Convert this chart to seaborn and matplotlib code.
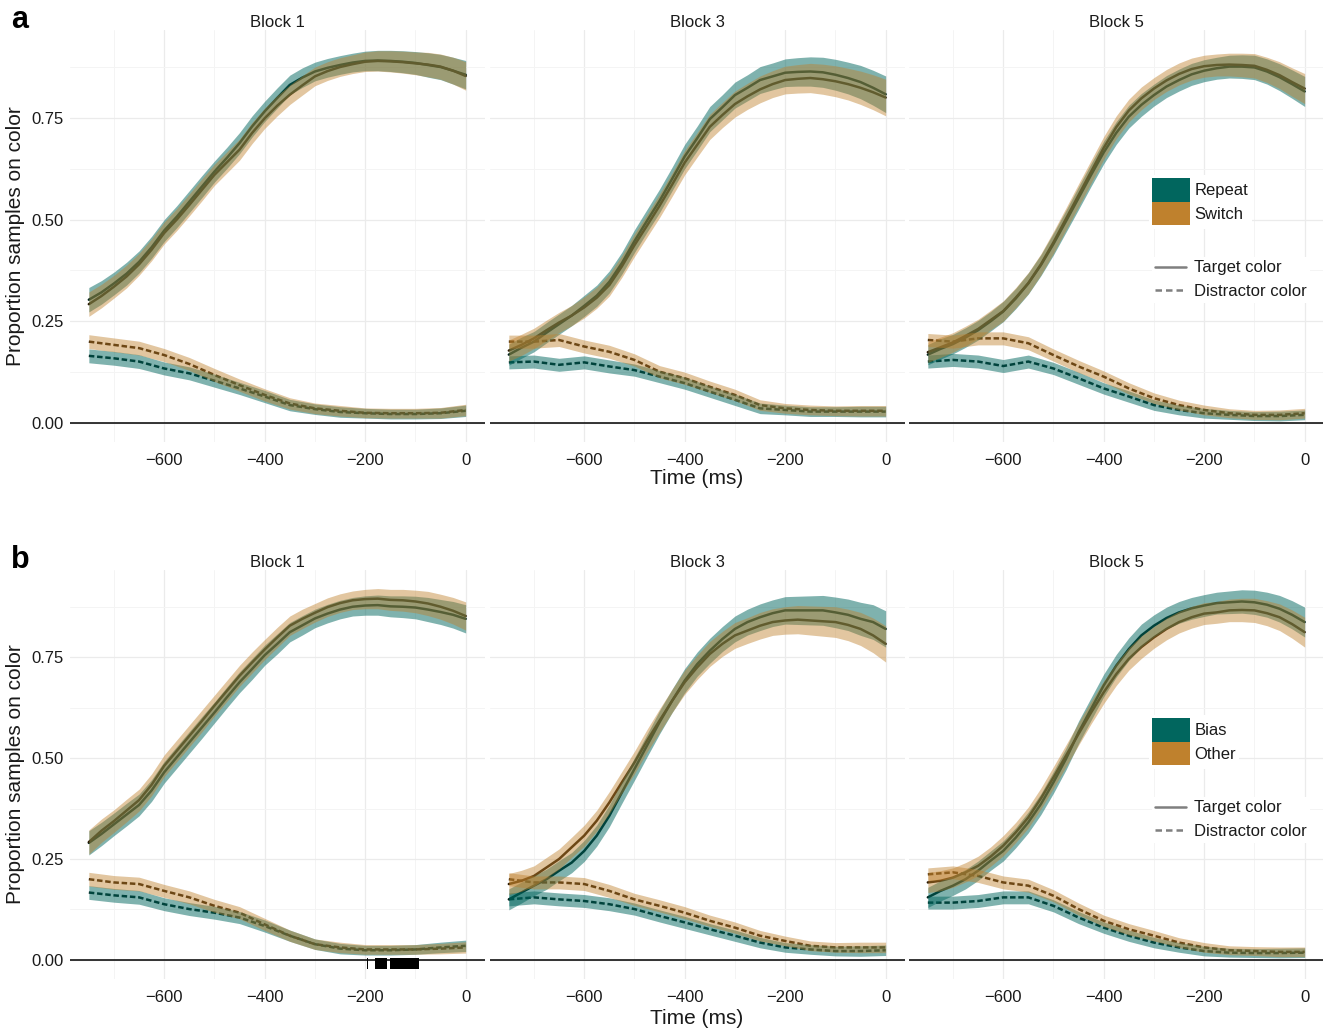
import numpy as np
import pandas as pd
import matplotlib
matplotlib.use("Agg")
import matplotlib.pyplot as plt
from matplotlib.patches import Patch
from matplotlib.lines import Line2D
import seaborn as sns

# ---------------------------------------------------------------- data
time_target = [-750, -725, -700, -675, -650, -625, -600, -575, -550, -525, -500,
               -475, -450, -425, -400, -375, -350, -325, -300, -275, -250,
               -225, -200, -175, -150, -125, -100, -75, -50, -25, 0]
time_distr = [-750, -700, -650, -600, -550, -500, -450, -400,
              -350, -300, -250, -200, -150, -100, -50, 0]
blocks = ["Block 1", "Block 3", "Block 5"]
kinds = ["Target color", "Distractor color"]

# Row a: trial-type split (Repeat vs Switch)
repeat_b1_target = [0.303, 0.321, 0.343, 0.367, 0.396, 0.432, 0.473, 0.507, 0.544, 0.581, 0.618,
                    0.652, 0.688, 0.729, 0.766, 0.799, 0.831, 0.849, 0.864, 0.873, 0.880,
                    0.886, 0.890, 0.891, 0.890, 0.888, 0.885, 0.880, 0.875, 0.866, 0.856]
switch_b1_target = [0.292, 0.312, 0.335, 0.360, 0.390, 0.426, 0.467, 0.500, 0.536, 0.573, 0.610,
                    0.641, 0.672, 0.713, 0.749, 0.780, 0.807, 0.830, 0.852, 0.865, 0.875,
                    0.882, 0.888, 0.890, 0.889, 0.887, 0.884, 0.881, 0.876, 0.866, 0.853]
repeat_b1_distr = [0.165, 0.159, 0.151, 0.134, 0.122, 0.104, 0.085, 0.065, 0.044, 0.034, 0.027, 0.024, 0.022, 0.022, 0.024, 0.030]
switch_b1_distr = [0.200, 0.192, 0.184, 0.167, 0.145, 0.118, 0.093, 0.069, 0.048, 0.036, 0.030, 0.025, 0.024, 0.024, 0.025, 0.032]

repeat_b3_target = [0.168, 0.185, 0.200, 0.222, 0.243, 0.264, 0.288, 0.313, 0.347, 0.393, 0.447,
                    0.497, 0.546, 0.600, 0.655, 0.700, 0.747, 0.776, 0.806, 0.824, 0.843,
                    0.852, 0.861, 0.863, 0.864, 0.862, 0.856, 0.848, 0.838, 0.824, 0.808]
switch_b3_target = [0.178, 0.192, 0.208, 0.228, 0.247, 0.264, 0.284, 0.308, 0.339, 0.385, 0.437,
                    0.485, 0.534, 0.586, 0.640, 0.684, 0.728, 0.757, 0.784, 0.803, 0.820,
                    0.833, 0.843, 0.846, 0.848, 0.845, 0.840, 0.833, 0.824, 0.813, 0.800]
repeat_b3_distr = [0.149, 0.151, 0.143, 0.149, 0.139, 0.130, 0.114, 0.098, 0.077, 0.057, 0.036, 0.032, 0.028, 0.028, 0.028, 0.028]
switch_b3_distr = [0.200, 0.200, 0.204, 0.188, 0.175, 0.155, 0.126, 0.110, 0.089, 0.069, 0.044, 0.036, 0.032, 0.030, 0.030, 0.030]

repeat_b5_target = [0.168, 0.182, 0.194, 0.210, 0.228, 0.250, 0.274, 0.306, 0.343, 0.388, 0.440,
                    0.496, 0.553, 0.610, 0.665, 0.713, 0.753, 0.782, 0.806, 0.827, 0.843,
                    0.857, 0.866, 0.872, 0.876, 0.876, 0.874, 0.864, 0.850, 0.833, 0.815]
switch_b5_target = [0.174, 0.186, 0.198, 0.214, 0.231, 0.253, 0.275, 0.308, 0.344, 0.390, 0.444,
                    0.502, 0.560, 0.618, 0.676, 0.727, 0.768, 0.798, 0.822, 0.842, 0.858,
                    0.870, 0.877, 0.880, 0.881, 0.880, 0.878, 0.868, 0.855, 0.838, 0.822]
repeat_b5_distr = [0.151, 0.155, 0.151, 0.140, 0.151, 0.134, 0.110, 0.085, 0.065, 0.044, 0.032, 0.024, 0.020, 0.017, 0.017, 0.020]
switch_b5_distr = [0.204, 0.200, 0.208, 0.208, 0.196, 0.167, 0.139, 0.114, 0.085, 0.061, 0.044, 0.032, 0.024, 0.020, 0.020, 0.024]

# Row b: colour-bias split (Bias vs Other)
bias_b1_target = [0.290, 0.312, 0.336, 0.360, 0.384, 0.420, 0.465, 0.502, 0.539, 0.576, 0.613,
                  0.651, 0.688, 0.721, 0.755, 0.783, 0.812, 0.829, 0.846, 0.858, 0.868,
                  0.875, 0.878, 0.879, 0.876, 0.875, 0.873, 0.868, 0.862, 0.855, 0.845]
other_b1_target = [0.292, 0.320, 0.344, 0.370, 0.396, 0.434, 0.481, 0.518, 0.555, 0.592, 0.630,
                   0.667, 0.704, 0.737, 0.769, 0.799, 0.828, 0.845, 0.860, 0.874, 0.884,
                   0.891, 0.894, 0.895, 0.892, 0.891, 0.888, 0.883, 0.875, 0.865, 0.852]
bias_b1_distr = [0.167, 0.160, 0.155, 0.138, 0.126, 0.117, 0.105, 0.084, 0.060, 0.039, 0.028, 0.024, 0.024, 0.026, 0.031, 0.035]
other_b1_distr = [0.200, 0.192, 0.188, 0.171, 0.155, 0.134, 0.117, 0.088, 0.060, 0.039, 0.031, 0.026, 0.026, 0.026, 0.028, 0.031]

bias_b3_target = [0.150, 0.167, 0.184, 0.200, 0.221, 0.241, 0.270, 0.308, 0.357, 0.415, 0.473,
                  0.531, 0.589, 0.642, 0.692, 0.733, 0.766, 0.795, 0.820, 0.837, 0.849,
                  0.859, 0.866, 0.866, 0.866, 0.866, 0.861, 0.855, 0.845, 0.837, 0.820]
other_b3_target = [0.188, 0.196, 0.208, 0.229, 0.250, 0.279, 0.308, 0.345, 0.390, 0.440, 0.489,
                   0.543, 0.593, 0.642, 0.688, 0.725, 0.758, 0.783, 0.804, 0.816, 0.828,
                   0.837, 0.841, 0.843, 0.841, 0.839, 0.837, 0.830, 0.820, 0.804, 0.783]
bias_b3_distr = [0.150, 0.155, 0.150, 0.146, 0.138, 0.126, 0.109, 0.093, 0.076, 0.060, 0.043, 0.031, 0.026, 0.022, 0.022, 0.024]
other_b3_distr = [0.200, 0.192, 0.192, 0.188, 0.171, 0.150, 0.134, 0.117, 0.097, 0.080, 0.060, 0.047, 0.035, 0.031, 0.031, 0.031]

bias_b5_target = [0.155, 0.171, 0.184, 0.200, 0.221, 0.246, 0.270, 0.303, 0.341, 0.386, 0.440,
                  0.498, 0.564, 0.622, 0.680, 0.729, 0.770, 0.804, 0.828, 0.847, 0.861,
                  0.871, 0.878, 0.884, 0.886, 0.888, 0.886, 0.880, 0.870, 0.855, 0.837]
other_b5_target = [0.192, 0.196, 0.204, 0.217, 0.233, 0.256, 0.283, 0.316, 0.353, 0.400, 0.452,
                   0.506, 0.560, 0.613, 0.663, 0.708, 0.746, 0.775, 0.799, 0.820, 0.837,
                   0.849, 0.858, 0.861, 0.866, 0.867, 0.866, 0.859, 0.849, 0.832, 0.812]
bias_b5_distr = [0.142, 0.142, 0.146, 0.155, 0.155, 0.134, 0.105, 0.080, 0.060, 0.043, 0.031, 0.022, 0.018, 0.017, 0.017, 0.018]
other_b5_distr = [0.212, 0.217, 0.208, 0.192, 0.184, 0.159, 0.126, 0.097, 0.076, 0.060, 0.043, 0.031, 0.024, 0.022, 0.020, 0.020]

# Ribbon half-widths (confidence band) per block
hw_target_b1 = [0.030, 0.029, 0.028, 0.028, 0.027, 0.027, 0.027, 0.027, 0.027, 0.027, 0.026,
                0.026, 0.026, 0.026, 0.025, 0.025, 0.024, 0.024, 0.023, 0.023, 0.023,
                0.023, 0.024, 0.025, 0.026, 0.027, 0.028, 0.030, 0.031, 0.033, 0.035]
hw_target_b3 = [0.026, 0.026, 0.025, 0.025, 0.025, 0.025, 0.026, 0.026, 0.027, 0.027, 0.028,
                0.028, 0.029, 0.029, 0.030, 0.030, 0.031, 0.031, 0.032, 0.032, 0.033,
                0.033, 0.034, 0.035, 0.036, 0.037, 0.038, 0.039, 0.041, 0.043, 0.045]
hw_target_b5 = [0.025, 0.025, 0.024, 0.024, 0.024, 0.024, 0.025, 0.025, 0.026, 0.026, 0.027,
                0.027, 0.028, 0.028, 0.028, 0.028, 0.028, 0.028, 0.027, 0.027, 0.027,
                0.027, 0.027, 0.027, 0.028, 0.029, 0.030, 0.031, 0.033, 0.035, 0.037]
hw_distr_b1 = [0.017, 0.017, 0.017, 0.016, 0.016, 0.016, 0.015, 0.015, 0.014, 0.013, 0.013, 0.012, 0.012, 0.012, 0.013, 0.014]
hw_distr_b3 = [0.016, 0.016, 0.016, 0.016, 0.016, 0.015, 0.015, 0.015, 0.014, 0.014, 0.013, 0.012, 0.012, 0.012, 0.013, 0.013]
hw_distr_b5 = [0.016, 0.016, 0.016, 0.016, 0.016, 0.015, 0.015, 0.014, 0.014, 0.013, 0.012, 0.012, 0.011, 0.011, 0.012, 0.012]

# Time windows with a significant Bias/Other difference (row b, Block 1)
sig_start = [-196, -181, -150]
sig_end = [-194, -157, -92]

xtick_vals = [-600, -400, -200, 0]
xtick_labels = ["\u2212600", "\u2212400", "\u2212200", "0"]
xminor_vals = [-700, -500, -300, -100]
ytick_vals = [0.0, 0.25, 0.5, 0.75]
ytick_labels = ["0.00", "0.25", "0.50", "0.75"]
yminor_vals = [0.125, 0.375, 0.625, 0.875]

# ---------------------------------------------------------------- long table
panels = [
    ("a", ["Repeat", "Switch"], {
        ("Block 1", "Repeat"): (repeat_b1_target, repeat_b1_distr),
        ("Block 1", "Switch"): (switch_b1_target, switch_b1_distr),
        ("Block 3", "Repeat"): (repeat_b3_target, repeat_b3_distr),
        ("Block 3", "Switch"): (switch_b3_target, switch_b3_distr),
        ("Block 5", "Repeat"): (repeat_b5_target, repeat_b5_distr),
        ("Block 5", "Switch"): (switch_b5_target, switch_b5_distr),
    }),
    ("b", ["Bias", "Other"], {
        ("Block 1", "Bias"): (bias_b1_target, bias_b1_distr),
        ("Block 1", "Other"): (other_b1_target, other_b1_distr),
        ("Block 3", "Bias"): (bias_b3_target, bias_b3_distr),
        ("Block 3", "Other"): (other_b3_target, other_b3_distr),
        ("Block 5", "Bias"): (bias_b5_target, bias_b5_distr),
        ("Block 5", "Other"): (other_b5_target, other_b5_distr),
    }),
]
half_widths = {
    "Block 1": (hw_target_b1, hw_distr_b1),
    "Block 3": (hw_target_b3, hw_distr_b3),
    "Block 5": (hw_target_b5, hw_distr_b5),
}

records = []
for letter, conds, series in panels:
    for (block, cond), (tgt, dis) in series.items():
        for kind, times, vals, hw in zip(kinds, (time_target, time_distr),
                                         (tgt, dis), half_widths[block]):
            for t, m, h in zip(times, vals, hw):
                records.append(dict(panel=letter, block=block, cond=cond, kind=kind,
                                    time=t, prop=m, lo=m - h, hi=m + h))
df = pd.DataFrame(records)

# ---------------------------------------------------------------- style
sns.set_style("white")
plt.rcParams["font.family"] = ["Liberation Sans", "DejaVu Sans"]
plt.rcParams["axes.unicode_minus"] = True

teal_key, brown_key = "#01665E", "#BF812D"
# mean lines sit underneath the translucent ribbons
teal_line, brown_line = "#00201a", "#2a1802"
ribbon_alpha = {0: 0.5, 1: 0.45}
text_col = "#1a1a1a"

W, H = 1323, 1029
fig = plt.figure(figsize=(W / 100, H / 100), dpi=100)

col_left = [70, 490, 909]
col_w = 414.5
row_top = [30, 570]
row_h = [411.7, 408.5]

for r, (letter, conds, series) in enumerate(panels):
    palette = {conds[0]: teal_line, conds[1]: brown_line}
    fills = {conds[0]: teal_key, conds[1]: brown_key}
    for c, block in enumerate(blocks):
        ax = fig.add_axes([col_left[c] / W, 1 - (row_top[r] + row_h[r]) / H,
                           col_w / W, row_h[r] / H])
        sub = df[(df.panel == letter) & (df.block == block)]

        # mean time courses
        sns.lineplot(data=sub, x="time", y="prop", hue="cond", hue_order=conds,
                     style="kind", style_order=kinds,
                     dashes={"Target color": "", "Distractor color": (2.2, 1.1)},
                     palette=palette, estimator=None, legend=False, ax=ax,
                     lw=1.8, zorder=1.5)
        # confidence ribbons on top
        for i, cond in enumerate(conds):
            for kind in kinds:
                s = sub[(sub.cond == cond) & (sub.kind == kind)]
                ax.fill_between(s.time, s.lo, s.hi, color=fills[cond],
                                alpha=ribbon_alpha[i], lw=0, zorder=2 + i * 0.1)

        ax.axhline(0, color="black", lw=1.1, zorder=4)
        if r == 1 and c == 0:
            ax.bar(x=sig_start, height=0.027, width=np.subtract(sig_end, sig_start),
                   bottom=-0.022, align="edge", color="black", lw=0, zorder=5)

        ax.set_xlim(-787.5, 37.5)
        ax.set_ylim(-0.046, 0.966)
        ax.set_xticks(xtick_vals)
        ax.set_xticklabels(xtick_labels)
        ax.set_xticks(xminor_vals, minor=True)
        ax.set_yticks(ytick_vals)
        ax.set_yticklabels(ytick_labels)
        ax.set_yticks(yminor_vals, minor=True)
        ax.set_axisbelow(True)
        ax.grid(which="major", color="#ebebeb", lw=0.9)
        ax.grid(which="minor", color="#f4f4f4", lw=0.7)
        for sp in ax.spines.values():
            sp.set_visible(False)
        ax.tick_params(which="major", length=3, width=0.9, color="#333333",
                       labelsize=12, labelcolor=text_col)
        ax.tick_params(axis="x", pad=5)
        ax.tick_params(axis="y", pad=1.5)
        ax.tick_params(which="minor", length=0)
        if c > 0:
            ax.tick_params(axis="y", left=False, labelleft=False)
        ax.set_xlabel("")
        ax.set_ylabel("")
        ax.set_title(block, fontsize=12, color=text_col, pad=2.5)

        if c == 2:
            fill_handles = [Patch(facecolor=fills[k], edgecolor="none") for k in conds]
            leg1 = ax.legend(fill_handles, conds, loc="upper left",
                             bbox_to_anchor=(1148.7 / W, 1 - (row_top[r] + 144.7) / H),
                             bbox_transform=fig.transFigure, fontsize=12,
                             handlelength=2.3, handleheight=1.8, handletextpad=0.25,
                             labelspacing=0.0, borderpad=0.2, borderaxespad=0,
                             frameon=True, framealpha=1, fancybox=False)
            leg1.get_frame().set_facecolor("white")
            leg1.get_frame().set_edgecolor("none")
            for t in leg1.get_texts():
                t.set_color(text_col)
            ax.add_artist(leg1)
            line_handles = [Line2D([], [], color="#7f7f7f", lw=1.8, ls="-"),
                            Line2D([], [], color="#7f7f7f", lw=1.8, ls=(0, (2.6, 1.6)))]
            leg2 = ax.legend(line_handles, kinds, loc="upper left",
                             bbox_to_anchor=(1151.7 / W, 1 - (row_top[r] + 227) / H),
                             bbox_transform=fig.transFigure, fontsize=12,
                             handlelength=1.85, handletextpad=0.48,
                             labelspacing=0.53, borderpad=0.2, borderaxespad=0,
                             frameon=True, framealpha=1, fancybox=False)
            leg2.get_frame().set_facecolor("white")
            leg2.get_frame().set_edgecolor("none")
            for t in leg2.get_texts():
                t.set_color(text_col)

    # shared axis titles and panel letter
    yc = 1 - (row_top[r] + row_h[r] / 2) / H
    fig.text(16 / W, yc, "Proportion samples on color", rotation=90,
             ha="center", va="center", fontsize=15, color=text_col)
    fig.text(697 / W, 1 - (row_top[r] + 449) / H, "Time (ms)",
             ha="center", va="center", fontsize=15, color=text_col)
    fig.text(20 / W, 1 - (row_top[r] - 10) / H, letter, ha="center", va="center",
             fontsize=22, fontweight="bold", color="black")

fig.savefig("out.png", dpi=100)
